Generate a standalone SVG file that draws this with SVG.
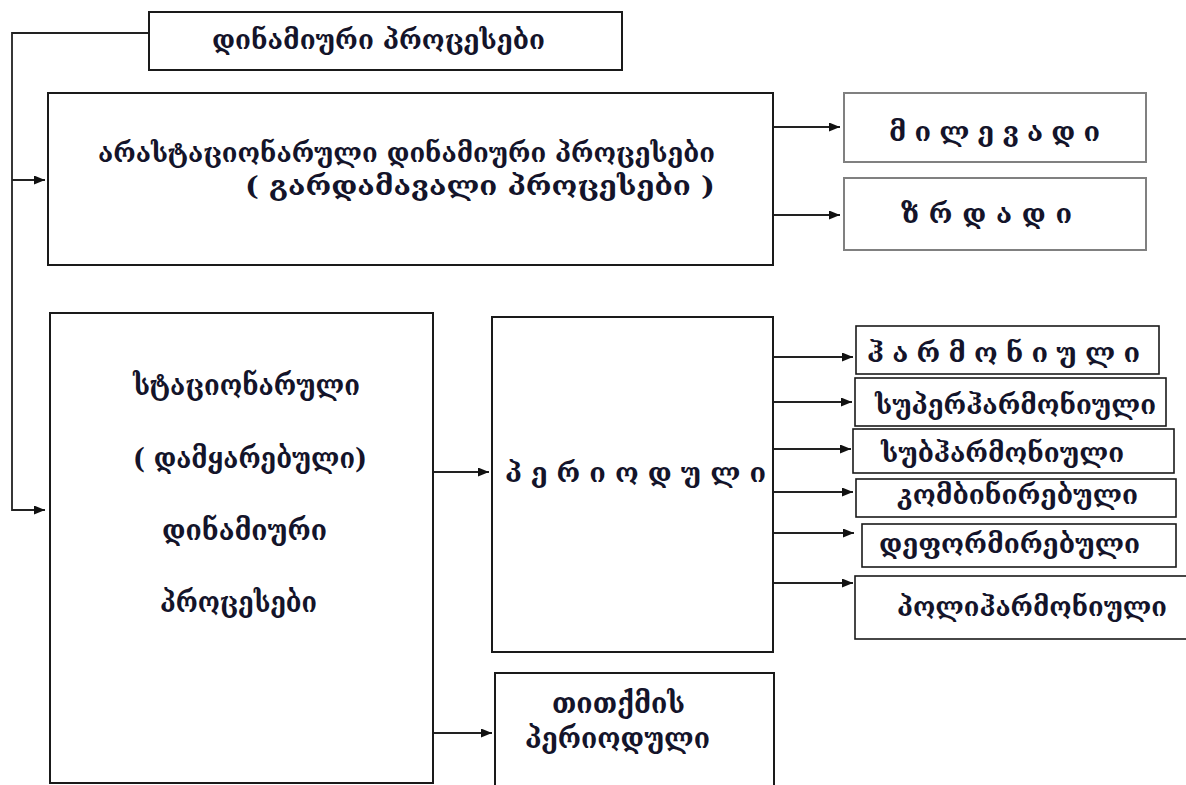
<svg xmlns="http://www.w3.org/2000/svg" width="1186" height="785" viewBox="0 0 1186 785">
  <style>
    .box { fill: #ffffff; stroke: #1a1a1a; stroke-width: 2; }
    .box-light { fill: #ffffff; stroke: #808080; stroke-width: 2; }
    .box-thin { fill: #ffffff; stroke: #1a1a1a; stroke-width: 1.6; }
    .lbl { font-family: "DejaVu Serif", "DejaVu Sans", serif; font-weight: bold; fill: #14142a; dominant-baseline: central; }
    .wire { fill: none; stroke: #222222; stroke-width: 1.8; }
  </style>
  <defs>
    <marker id="arrow" markerUnits="userSpaceOnUse" markerWidth="11" markerHeight="9" refX="11" refY="4.5" orient="auto">
      <path d="M0,0 L11,4.5 L0,9 z" fill="#111111"/>
    </marker>
  </defs>

  <rect width="1186" height="785" fill="#ffffff"/>

  <!-- connectors -->
  <g id="connectors">
    <polyline class="wire" points="149,33 12,33 12,510 45,510" marker-end="url(#arrow)"/>
    <line class="wire" x1="12" y1="180" x2="45" y2="180" marker-end="url(#arrow)"/>
    <line class="wire" x1="773" y1="127" x2="840" y2="127" marker-end="url(#arrow)"/>
    <line class="wire" x1="773" y1="215" x2="840" y2="215" marker-end="url(#arrow)"/>
    <line class="wire" x1="433" y1="472" x2="489" y2="472" marker-end="url(#arrow)"/>
    <line class="wire" x1="433" y1="733" x2="492" y2="733" marker-end="url(#arrow)"/>
    <line class="wire" x1="773" y1="357" x2="853" y2="357" marker-end="url(#arrow)"/>
    <line class="wire" x1="773" y1="402" x2="852" y2="402" marker-end="url(#arrow)"/>
    <line class="wire" x1="773" y1="449" x2="851" y2="449" marker-end="url(#arrow)"/>
    <line class="wire" x1="773" y1="492" x2="853" y2="492" marker-end="url(#arrow)"/>
    <line class="wire" x1="773" y1="533" x2="854" y2="533" marker-end="url(#arrow)"/>
    <line class="wire" x1="773" y1="583" x2="853" y2="583" marker-end="url(#arrow)"/>
  </g>

  <!-- root -->
  <g id="dynamic">
    <rect class="box" x="149" y="12" width="473" height="58"/>
    <text class="lbl" x="212" y="40" font-size="26" textLength="333" lengthAdjust="spacingAndGlyphs">დინამიური პროცესები</text>
  </g>

  <!-- non-stationary -->
  <g id="nonstationary">
    <rect class="box" x="48" y="93" width="725" height="172"/>
    <text class="lbl" x="98" y="153" font-size="26" textLength="617" lengthAdjust="spacingAndGlyphs">არასტაციონარული დინამიური პროცესები</text>
    <text class="lbl" x="245" y="186" font-size="26" textLength="470" lengthAdjust="spacingAndGlyphs">( გარდამავალი პროცესები )</text>
  </g>

  <g id="decaying">
    <rect class="box-light" x="844" y="93" width="302" height="69"/>
    <text class="lbl" x="889" y="131" font-size="27" textLength="211" lengthAdjust="spacing">მ ი ლ ე ვ ა დ ი</text>
  </g>

  <g id="growing">
    <rect class="box-light" x="844" y="178" width="302" height="72"/>
    <text class="lbl" x="901" y="213" font-size="27" textLength="171" lengthAdjust="spacing">ზ რ დ ა დ ი</text>
  </g>

  <!-- stationary -->
  <g id="stationary">
    <rect class="box" x="50" y="313" width="383" height="470"/>
    <text class="lbl" x="133" y="385" font-size="28" textLength="227" lengthAdjust="spacingAndGlyphs">სტაციონარული</text>
    <text class="lbl" x="133" y="458" font-size="28" textLength="234" lengthAdjust="spacingAndGlyphs">( დამყარებული)</text>
    <text class="lbl" x="162" y="530" font-size="28" textLength="165" lengthAdjust="spacingAndGlyphs">დინამიური</text>
    <text class="lbl" x="160" y="602" font-size="28" textLength="157" lengthAdjust="spacingAndGlyphs">პროცესები</text>
  </g>

  <g id="periodic">
    <rect class="box" x="492" y="317" width="281" height="335"/>
    <text class="lbl" x="505" y="472" font-size="27" textLength="261" lengthAdjust="spacing">პ ე რ ი ო დ უ ლ ი</text>
  </g>

  <g id="harmonic">
    <rect class="box-thin" x="856" y="326" width="303" height="48"/>
    <text class="lbl" x="867" y="352" font-size="27" textLength="273" lengthAdjust="spacing">ჰ ა რ მ ო ნ ი უ ლ ი</text>
  </g>

  <g id="superharmonic">
    <rect class="box-thin" x="855" y="378" width="311" height="48"/>
    <text class="lbl" x="875" y="405" font-size="26" textLength="281" lengthAdjust="spacingAndGlyphs">სუპერჰარმონიული</text>
  </g>

  <g id="subharmonic">
    <rect class="box-thin" x="853" y="429" width="321" height="44"/>
    <text class="lbl" x="881" y="453" font-size="26" textLength="243" lengthAdjust="spacingAndGlyphs">სუბჰარმონიული</text>
  </g>

  <g id="combined">
    <rect class="box-thin" x="856" y="479" width="320" height="38"/>
    <text class="lbl" x="897" y="495" font-size="26" textLength="241" lengthAdjust="spacingAndGlyphs">კომბინირებული</text>
  </g>

  <g id="deformed">
    <rect class="box-thin" x="862" y="524" width="314" height="43"/>
    <text class="lbl" x="879" y="544" font-size="26" textLength="261" lengthAdjust="spacingAndGlyphs">დეფორმირებული</text>
  </g>

  <g id="polyharmonic">
    <rect class="box-thin" x="855" y="576" width="340" height="63"/>
    <text class="lbl" x="897" y="607" font-size="26" textLength="270" lengthAdjust="spacingAndGlyphs">პოლიჰარმონიული</text>
  </g>

  <g id="almost-periodic">
    <rect class="box" x="495" y="673" width="279" height="120"/>
    <text class="lbl" x="552" y="703" font-size="28" textLength="133" lengthAdjust="spacingAndGlyphs">თითქმის</text>
    <text class="lbl" x="525" y="738" font-size="28" textLength="185" lengthAdjust="spacingAndGlyphs">პერიოდული</text>
  </g>
</svg>
